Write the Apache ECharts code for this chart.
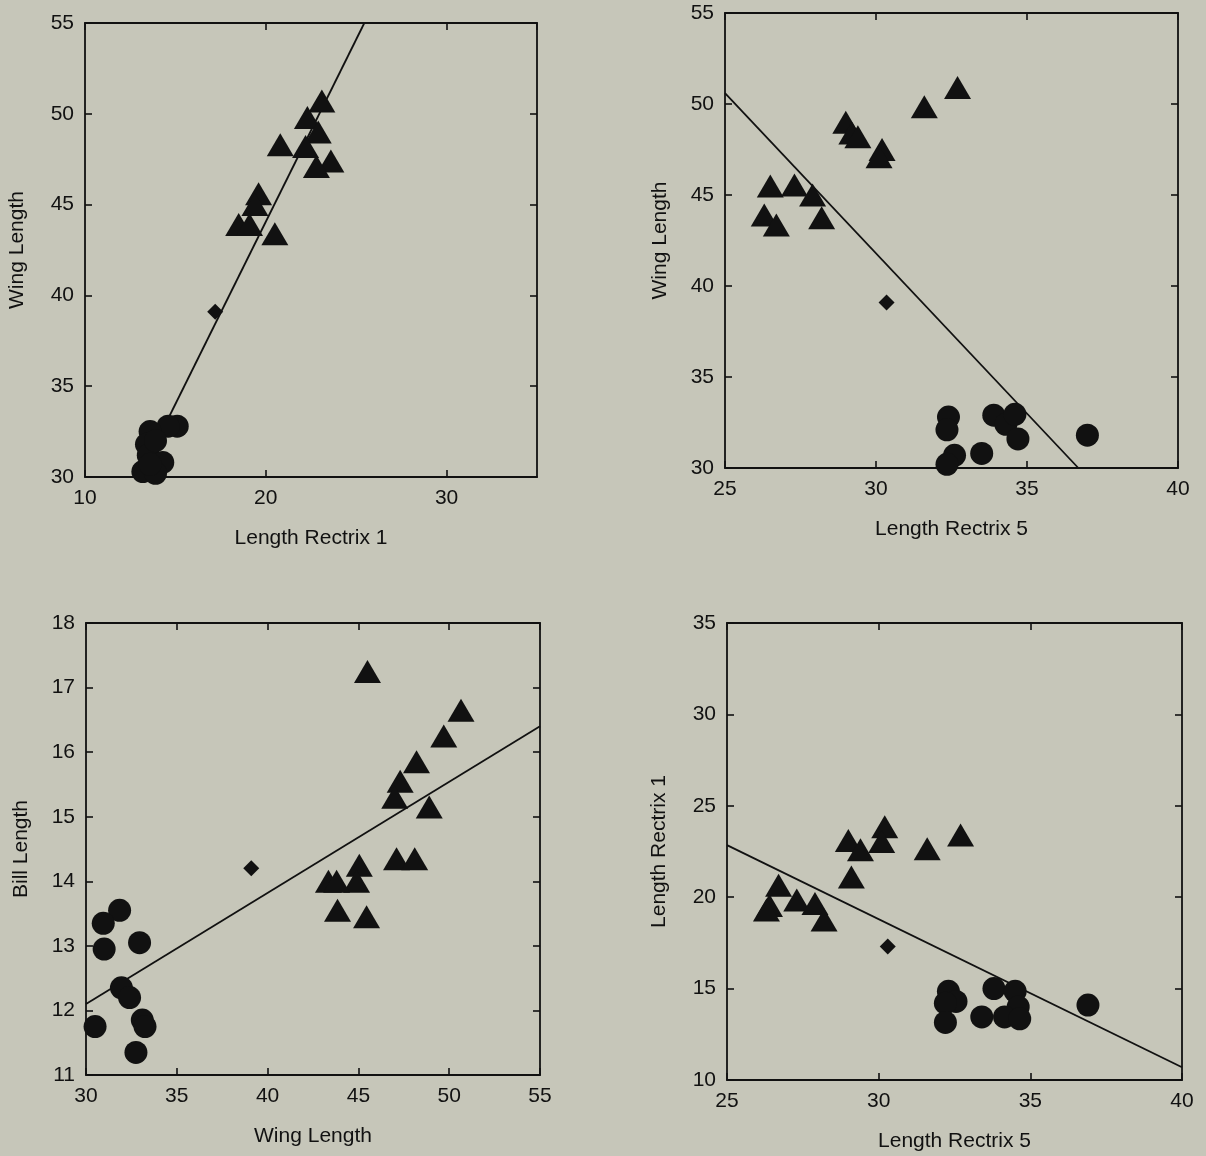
<!DOCTYPE html>
<html>
<head>
<meta charset="utf-8">
<title>Wing / Rectrix / Bill</title>
<script src="https://cdn.jsdelivr.net/npm/echarts@6/dist/echarts.min.js"></script>
<style>
    html, body { margin: 0; padding: 0; background: #c6c6b9; }
    #main { width: 1206px; height: 1156px; }
</style>
</head>
<body>
<div id="main"></div>
<script>

// панель 1: Length Rectrix 1 / Wing Length
var r1WingTri = [[23.1, 50.7], [22.3, 49.8], [22.9, 49.0], [20.8, 48.3], [22.2, 48.2], [23.6, 47.4], [22.8, 47.1], [19.6, 45.6], [19.4, 45.0], [18.5, 43.9], [19.1, 43.9], [20.5, 43.4]];
var r1WingCirc = [[15.1, 32.8], [14.6, 32.8], [13.6, 32.5], [13.4, 31.8], [13.5, 31.2], [14.3, 30.8], [13.2, 30.3], [13.9, 30.2], [13.9, 32.0], [13.6, 30.7]];
var r1WingDiam = [[17.2, 39.1]];
var r1WingLine = [[13.0, 30], [25.45, 55]];

// панель 2: Length Rectrix 5 / Wing Length
var r5WingTri = [[32.7, 50.9], [31.6, 49.85], [29.0, 49.0], [29.2, 48.4], [29.4, 48.2], [30.2, 47.5], [30.1, 47.1], [26.5, 45.5], [27.3, 45.55], [27.9, 45.0], [26.3, 43.9], [26.7, 43.35], [28.2, 43.75]];
var r5WingCirc = [[32.4, 32.8], [32.35, 32.1], [33.9, 32.9], [34.3, 32.4], [34.6, 32.95], [34.7, 31.6], [37.0, 31.8], [32.6, 30.7], [33.5, 30.8], [32.35, 30.2]];
var r5WingDiam = [[30.35, 39.1]];
var r5WingLine = [[25, 50.6], [36.7, 30]];

// панель 3: Wing Length / Bill Length
var wingBillTri = [[45.5, 17.25], [50.65, 16.65], [49.7, 16.25], [48.2, 15.85], [47.3, 15.55], [47.0, 15.3], [48.9, 15.15], [47.1, 14.35], [48.1, 14.35], [45.05, 14.25], [44.9, 14.0], [43.35, 14.0], [43.8, 14.0], [43.85, 13.55], [45.45, 13.45]];
var wingBillCirc = [[31.85, 13.55], [30.95, 13.35], [31.0, 12.95], [32.95, 13.05], [31.95, 12.35], [32.4, 12.2], [33.1, 11.85], [33.25, 11.75], [30.5, 11.75], [32.75, 11.35]];
var wingBillDiam = [[39.1, 14.2]];
var wingBillLine = [[30, 12.1], [55, 16.4]];

// панель 4: Length Rectrix 5 / Length Rectrix 1
var r5r1Tri = [[30.2, 23.85], [30.1, 23.05], [29.0, 23.1], [29.4, 22.6], [31.6, 22.65], [32.7, 23.4], [29.1, 21.1], [26.7, 20.65], [27.3, 19.85], [26.4, 19.55], [27.9, 19.65], [26.3, 19.3], [28.2, 18.75]];
var r5r1Circ = [[32.3, 14.85], [32.55, 14.3], [32.2, 14.2], [32.2, 13.15], [33.4, 13.45], [33.8, 15.0], [34.5, 14.85], [34.6, 14.0], [34.15, 13.45], [34.65, 13.35], [36.9, 14.1]];
var r5r1Diam = [[30.3, 17.3]];
var r5r1Line = [[25, 22.85], [40, 10.7]];

// оси: [min, max, interval]
var panels = [
    { grid: { left: 85, top: 23, width: 452, height: 454 },
      x: [10, 35, 10], y: [30, 55, 5], xMaxLabel: false, xName: 'Length Rectrix 1', yName: 'Wing Length', yGap: 57,
      tri: r1WingTri, circ: r1WingCirc, diam: r1WingDiam, line: r1WingLine },
    { grid: { left: 725, top: 13, width: 453, height: 455 },
      x: [25, 40, 5], y: [30, 55, 5], xMaxLabel: true, xName: 'Length Rectrix 5', yName: 'Wing Length', yGap: 54,
      tri: r5WingTri, circ: r5WingCirc, diam: r5WingDiam, line: r5WingLine },
    { grid: { left: 86, top: 623, width: 454, height: 452 },
      x: [30, 55, 5], y: [11, 18, 1], xMaxLabel: true, xName: 'Wing Length', yName: 'Bill Length', yGap: 54,
      tri: wingBillTri, circ: wingBillCirc, diam: wingBillDiam, line: wingBillLine },
    { grid: { left: 727, top: 623, width: 455, height: 457 },
      x: [25, 40, 5], y: [10, 35, 5], xMaxLabel: true, xName: 'Length Rectrix 5', yName: 'Length Rectrix 1', yGap: 57,
      tri: r5r1Tri, circ: r5r1Circ, diam: r5r1Diam, line: r5r1Line }
];

var FONT = 'Liberation Sans, Arial, Helvetica, sans-serif';
var INK = '#111';

function makeAxis(gridIndex, range, position, withLabels, name, gap, maxLabel) {
    var ax = {
        type: 'value',
        gridIndex: gridIndex,
        position: position,
        min: range[0],
        max: range[1],
        interval: range[2],
        splitLine: { show: false },
        axisLine: { show: true, onZero: false, lineStyle: { color: INK, width: 1.8 } },
        axisTick: { show: true, inside: true, length: 7, lineStyle: { color: INK, width: 1.6 } },
        axisLabel: {
            show: withLabels,
            color: INK,
            fontFamily: FONT,
            fontSize: 21,
            margin: 11,
            showMinLabel: true,
            showMaxLabel: maxLabel !== false
        }
    };
    if (name) {
        ax.name = name;
        ax.nameLocation = 'middle';
        ax.nameGap = gap;
        ax.nameMoveOverlap = false;
        ax.nameTextStyle = { color: INK, fontFamily: FONT, fontSize: 21 };
    }
    return ax;
}

var option = {
    backgroundColor: '#c6c6b9',
    animation: false,
    grid: [],
    xAxis: [],
    yAxis: [],
    series: []
};

panels.forEach(function (p, i) {
    var g = Object.assign({ outerBoundsMode: 'none', containLabel: false }, p.grid);
    option.grid.push(g);

    var xi = option.xAxis.length;
    option.xAxis.push(makeAxis(i, p.x, 'bottom', true, p.xName, 51, p.xMaxLabel));
    option.xAxis.push(makeAxis(i, p.x, 'top', false));

    var yi = option.yAxis.length;
    option.yAxis.push(makeAxis(i, p.y, 'left', true, p.yName, p.yGap));
    option.yAxis.push(makeAxis(i, p.y, 'right', false));

    // линия регрессии под маркерами
    option.series.push({
        type: 'line',
        xAxisIndex: xi,
        yAxisIndex: yi,
        data: p.line,
        showSymbol: false,
        symbol: 'none',
        lineStyle: { color: INK, width: 1.8 },
        z: 2
    });
    option.series.push({
        type: 'scatter',
        xAxisIndex: xi,
        yAxisIndex: yi,
        data: p.circ,
        symbol: 'circle',
        symbolSize: 23,
        itemStyle: { color: INK, opacity: 1 },
        z: 3
    });
    option.series.push({
        type: 'scatter',
        xAxisIndex: xi,
        yAxisIndex: yi,
        data: p.tri,
        symbol: 'triangle',
        symbolSize: [27, 23],
        itemStyle: { color: INK, opacity: 1 },
        z: 3
    });
    option.series.push({
        type: 'scatter',
        xAxisIndex: xi,
        yAxisIndex: yi,
        data: p.diam,
        symbol: 'diamond',
        symbolSize: [16, 16],
        itemStyle: { color: INK, opacity: 1 },
        z: 3
    });
});

var chartDom = document.getElementById('main');
var myChart = echarts.init(chartDom, null, { renderer: 'canvas' });
option && myChart.setOption(option);

</script>
</body>
</html>
